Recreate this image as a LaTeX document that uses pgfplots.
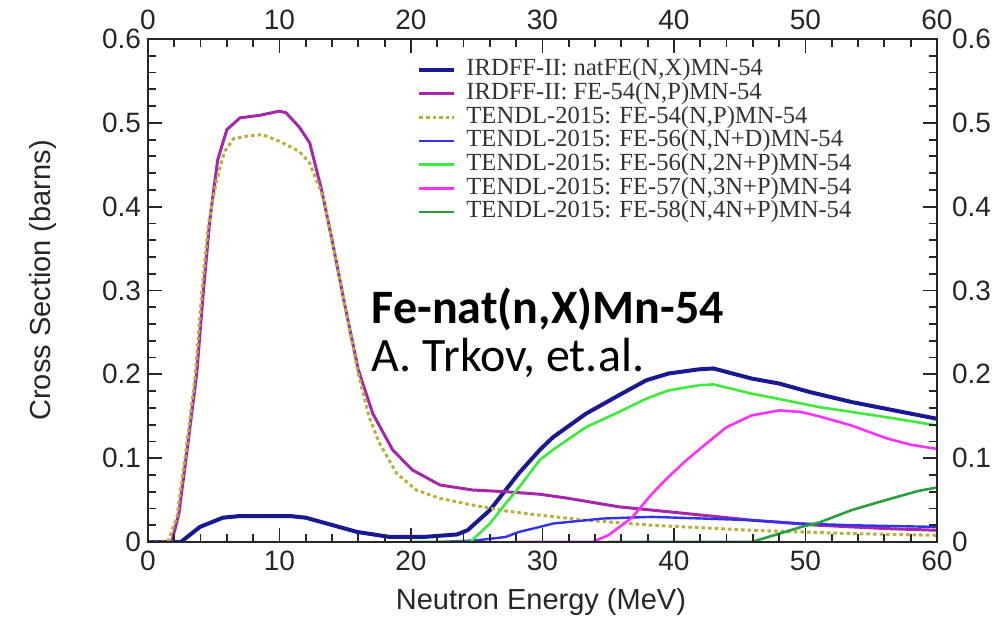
\documentclass[border=0pt]{standalone}
\usepackage{fontspec}
\setmainfont{Liberation Sans}
\newfontfamily\legfont{Liberation Serif}
\newfontfamily\calfont{Carlito}
\usepackage{pgfplots}
\pgfplotsset{compat=1.18}
\definecolor{navyc}{RGB}{25,25,145}
\definecolor{purplec}{RGB}{165,40,170}
\definecolor{dotc}{RGB}{185,175,60}
\definecolor{bluec}{RGB}{50,50,235}
\definecolor{limec}{RGB}{60,235,60}
\definecolor{magc}{RGB}{250,50,250}
\definecolor{dgreenc}{RGB}{40,160,60}
\begin{document}
\begin{tikzpicture}
\useasboundingbox (-74pt,-40.5pt) rectangle (424pt,271pt);
\begin{axis}[
  at={(0,0)}, anchor=south west,
  scale only axis, width=394.5pt, height=251.5pt,
  xmin=0, xmax=60, ymin=0, ymax=0.6,
  xtick={0,10,20,30,40,50,60}, xticklabels={0,10,20,30,40,50,60},
  ytick={0,0.1,0.2,0.3,0.4,0.5,0.6}, yticklabels={0,0.1,0.2,0.3,0.4,0.5,0.6},
  minor x tick num=4, minor y tick num=4,
  tick align=inside,
  major tick length=7pt, minor tick length=4pt,
  every tick/.style={black!85, line width=0.9pt},
  axis line style={black!85, line width=1.2pt},
  tick label style={font=\fontsize{14}{16}\selectfont, text=black!85},
  xticklabel style={yshift=-1pt},
  xlabel={Neutron Energy (MeV)}, ylabel={Cross Section (barns)},
  label style={font=\fontsize{14.5}{17}\selectfont, text=black!85},
  xlabel style={at={(axis description cs:0.498,-0.135)}, anchor=base},
  ylabel style={at={(axis description cs:-0.133,0.52)}, anchor=center},
  axis on top,
  legend cell align=left,
  legend image code/.code={\draw[#1] (0pt,0pt) -- (17.5pt,0pt);},
  legend style={at={(0.341,0.962)}, anchor=north west, draw=none, fill=none,
    inner sep=0pt, font=\legfont\fontsize{12.3}{12}\selectfont, text=black!80,
    nodes={inner sep=0pt, text height=8.6pt, text depth=2.6pt},
    row sep=0.65pt, /tikz/every odd column/.style={column sep=5pt}},
]
\addplot[navyc, line width=2pt] coordinates {
(0,0) (2.5,0) (3.95,0.018) (5.7,0.029) (7.0,0.031) (10.8,0.031) (12.0,0.029) (13.6,0.022)
(15.9,0.012) (18.4,0.006) (20.9,0.006) (23.5,0.009) (24.3,0.014) (26.0,0.038) (27.2,0.062)
(28.2,0.082) (29.8,0.110) (30.8,0.125) (33.3,0.153) (35.8,0.175) (37.9,0.193) (39.6,0.201)
(41.9,0.206) (43.0,0.207) (45.9,0.195) (48.0,0.189) (50.3,0.179) (53.5,0.167) (56.1,0.159) (60,0.147)};
\addlegendentry{IRDFF-II: natFE(N,X)MN-54}
\addplot[purplec, line width=1.5pt] coordinates {
(0,0) (1.8,0) (2.35,0.034) (3.0,0.113) (3.7,0.20) (4.2,0.297) (4.7,0.384) (5.3,0.456)
(6.0,0.492) (7.0,0.506) (8.5,0.509) (10.0,0.514) (10.5,0.512) (11.5,0.495) (12.3,0.476)
(13.2,0.42) (14.0,0.36) (15.0,0.28) (16.0,0.205) (17.1,0.153) (18.6,0.11) (20.1,0.086)
(22.2,0.068) (24.7,0.062) (27.2,0.060) (29.8,0.057) (32.0,0.052) (35.8,0.042) (40.9,0.034)
(45.9,0.026) (51.0,0.020) (56.1,0.016) (60,0.014)};
\addlegendentry{IRDFF-II: FE-54(N,P)MN-54}
\addplot[dotc, line width=1.5pt, dash pattern=on 1.8pt off 1.5pt] coordinates {
(0,0) (1.5,0) (2.2,0.03) (2.9,0.11) (3.6,0.20) (4.1,0.30) (4.6,0.38) (5.2,0.43) (5.8,0.465)
(6.5,0.481) (7.5,0.484) (8.7,0.486) (10.0,0.478) (11.5,0.466) (12.3,0.452) (13.3,0.412)
(14.0,0.36) (15.0,0.28) (16.0,0.20) (16.8,0.15) (17.6,0.118) (18.9,0.082) (20.4,0.062)
(22.2,0.052) (24.7,0.044) (27.2,0.037) (29.8,0.032) (33.3,0.026) (38.3,0.020) (45.9,0.014)
(53.5,0.010) (60,0.008)};
\addlegendentry{TENDL-2015: FE-54(N,P)MN-54}
\addplot[bluec, line width=1.2pt] coordinates {
(20,0) (22,0) (25,0.002) (27.2,0.006) (28.2,0.012) (29.8,0.018) (30.8,0.022) (34.6,0.028)
(38.3,0.030) (42.2,0.028) (45.9,0.026) (49.7,0.022) (53.5,0.020) (60,0.018)};
\addlegendentry{TENDL-2015: FE-56(N,N+D)MN-54}
\addplot[limec, line width=1.3pt] coordinates {
(20,0) (24.5,0) (26.0,0.022) (27.0,0.042) (28.2,0.065) (29.8,0.098) (30.8,0.110) (33.3,0.137)
(35.8,0.155) (37.9,0.171) (39.6,0.181) (41.9,0.187) (43.0,0.188) (45.9,0.177) (48.5,0.169)
(51.0,0.161) (56.1,0.149) (60,0.139)};
\addlegendentry{TENDL-2015: FE-56(N,2N+P)MN-54}
\addplot[magc, line width=1.3pt] coordinates {
(28,0) (33.8,0) (35.0,0.008) (36.8,0.029) (38.3,0.057) (39.6,0.078) (40.9,0.097) (42.5,0.118)
(44.0,0.137) (45.9,0.151) (48.0,0.157) (49.7,0.155) (51.0,0.150) (53.5,0.139) (56.1,0.124)
(58.0,0.116) (60,0.111)};
\addlegendentry{TENDL-2015: FE-57(N,3N+P)MN-54}
\addplot[dgreenc, line width=1.3pt] coordinates {
(35,0) (45.9,0) (49.7,0.018) (51.0,0.023) (53.5,0.038) (56.1,0.050) (58.6,0.061) (60,0.065)};
\addlegendentry{TENDL-2015: FE-58(N,4N+P)MN-54}
\node[anchor=base west, inner sep=0pt, font=\calfont\bfseries\fontsize{24}{29}\selectfont] at (axis cs:17.0,0.261) {Fe-nat(n,X)Mn-54};
\node[anchor=base west, inner sep=0pt, font=\calfont\fontsize{24}{29}\selectfont] at (axis cs:17.0,0.203) {A. Trkov, et.al.};
\end{axis}
\begin{axis}[
  at={(0,0)}, anchor=south west,
  scale only axis, width=394.5pt, height=251.5pt,
  xmin=0, xmax=60, ymin=0, ymax=0.6,
  xtick={0,10,20,30,40,50,60}, xticklabels={0,10,20,30,40,50,60},
  ytick={0,0.1,0.2,0.3,0.4,0.5,0.6}, yticklabels={0,0.1,0.2,0.3,0.4,0.5,0.6},
  xticklabel pos=upper, yticklabel pos=right,
  axis line style={draw=none}, tick style={draw=none},
  major tick length=0pt,
  tick label style={font=\fontsize{14}{16}\selectfont, text=black!85},
  yticklabel style={xshift=4pt},
  xticklabel style={yshift=1pt},
]
\end{axis}
\end{tikzpicture}
\end{document}
